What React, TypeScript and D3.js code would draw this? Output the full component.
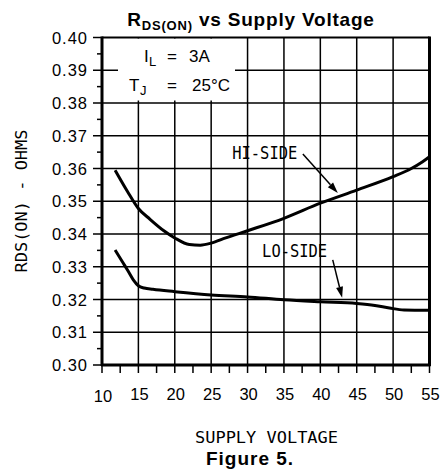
import React from "react";
import * as d3 from "d3";

const xTicks = [10, 15, 20, 25, 30, 35, 40, 45, 50, 55];
const xMinor = [12.5, 17.5, 22.5, 27.5, 32.5, 37.5, 42.5, 47.5, 52.5];
const yTicks = [0.3, 0.31, 0.32, 0.33, 0.34, 0.35, 0.36, 0.37, 0.38, 0.39, 0.4];
const yMinor = [0.305, 0.315, 0.325, 0.335, 0.345, 0.355, 0.365, 0.375, 0.385, 0.395];

const hiV = [11.8, 13.5, 15, 16.6, 18.5, 20, 22, 23.5, 25, 27, 30, 35, 40, 45, 50, 52.5, 54, 55];
const hiR = [0.3595, 0.353, 0.3478, 0.3445, 0.341, 0.3388, 0.3368, 0.3366, 0.3372, 0.3388, 0.341, 0.3448, 0.3494, 0.3534, 0.3575, 0.36, 0.362, 0.3636];

const loV = [11.8, 12.8, 13.5, 14.3, 15, 15.8, 17, 20, 25, 30, 35, 40, 45, 47.5, 49.5, 51.5, 55];
const loR = [0.3351, 0.3315, 0.329, 0.326, 0.3242, 0.3235, 0.3231, 0.3224, 0.3214, 0.3208, 0.3199, 0.3193, 0.3188, 0.3182, 0.3174, 0.3168, 0.3167];

const labels = [
  { text: "HI-SIDE", v: 27.9, r: 0.3629, fromV: 37.6, fromR: 0.3644, toV: 42.4, toR: 0.3525 },
  { text: "LO-SIDE", v: 32.0, r: 0.333, fromV: 41.7, fromR: 0.3321, toV: 43.0, toR: 0.3205 },
];

const plotter = "'DejaVu Sans Mono', monospace";
const arial = "'Liberation Sans', Arial, sans-serif";

export default function App() {
  const W = 443;
  const H = 472;
  const x = d3.scaleLinear().domain([10, 55]).range([102, 429.5]);
  const y = d3.scaleLinear().domain([0.3, 0.4]).range([365, 37.5]);
  const [x0, x1] = x.range();
  const [y0, y1] = y.range();

  const line = d3
    .line<[number, number]>()
    .x((d) => x(d[0]))
    .y((d) => y(d[1]))
    .curve(d3.curveMonotoneX);
  const hiPath = line(hiV.map((v, i) => [v, hiR[i]] as [number, number])) || "";
  const loPath = line(loV.map((v, i) => [v, loR[i]] as [number, number])) || "";

  const arrow = (a: typeof labels[0]) => {
    const fx = x(a.fromV), fy = y(a.fromR), tx = x(a.toV), ty = y(a.toR);
    const ang = Math.atan2(ty - fy, tx - fx);
    const L = 11, Wd = 3.5;
    const bx = tx - L * Math.cos(ang), by = ty - L * Math.sin(ang);
    const px = -Math.sin(ang) * Wd, py = Math.cos(ang) * Wd;
    return (
      <g>
        <line x1={fx} y1={fy} x2={bx} y2={by} stroke="#000" strokeWidth={1.5} />
        <path d={`M${tx},${ty}L${bx + px},${by + py}L${bx - px},${by - py}Z`} fill="#000" />
      </g>
    );
  };

  return (
    <svg width={W} height={H} style={{ position: "absolute", left: 0, top: 0, background: "#fff" }}>
      <rect width={W} height={H} fill="#fff" />
      {/* grid */}
      {xTicks.slice(1, -1).map((t) => (
        <line key={"gx" + t} x1={x(t)} x2={x(t)} y1={y0} y2={y1} stroke="#000" strokeWidth={1.5} />
      ))}
      {yTicks.slice(1, -1).map((t) => (
        <line key={"gy" + t} x1={x0} x2={x1} y1={y(t)} y2={y(t)} stroke="#000" strokeWidth={1.5} />
      ))}
      {/* legend box */}
      <rect x={118} y={y1 + 1} width={117} height={62} fill="#fff" />
      {/* frame */}
      <line x1={x0} x2={x1} y1={y1} y2={y1} stroke="#000" strokeWidth={2} />
      <line x1={x0} x2={x0} y1={y1 - 1} y2={y0 + 1} stroke="#000" strokeWidth={3} />
      <line x1={x1} x2={x1} y1={y1 - 1} y2={y0 + 1} stroke="#000" strokeWidth={3} />
      <line x1={x0 - 1} x2={x1 + 1} y1={y0} y2={y0} stroke="#000" strokeWidth={3} />
      {/* ticks */}
      {yTicks.map((t) => (
        <line key={"ty" + t} x1={x0 - 9} x2={x0} y1={y(t)} y2={y(t)} stroke="#000" strokeWidth={1.5} />
      ))}
      {yMinor.map((t) => (
        <line key={"tym" + t} x1={x0 - 5} x2={x0} y1={y(t)} y2={y(t)} stroke="#000" strokeWidth={1.5} />
      ))}
      {xTicks.concat(xMinor).map((t) => (
        <line key={"tx" + t} x1={x(t)} x2={x(t)} y1={y0} y2={y0 + 8} stroke="#000" strokeWidth={1.5} />
      ))}
      {/* tick labels */}
      {yTicks.map((t) => (
        <text key={"ly" + t} x={88} y={y(t) + 6} textAnchor="end" fontFamily={arial} fontSize={16.5} letterSpacing={1}>
          {t.toFixed(2)}
        </text>
      ))}
      {xTicks.map((t, i) => (
        <text key={"lx" + t} x={x(t) + 1} y={i === 0 ? 402 : 400} textAnchor="middle" fontFamily={arial} fontSize={16.5}>
          {t}
        </text>
      ))}
      {/* curves */}
      <path d={hiPath} fill="none" stroke="#000" strokeWidth={3} strokeLinejoin="round" />
      <path d={loPath} fill="none" stroke="#000" strokeWidth={3} strokeLinejoin="round" />
      {/* annotations */}
      {labels.map((a) => (
        <g key={a.text}>
          <text x={x(a.v)} y={y(a.r)} fontFamily={plotter} fontSize={18} textLength={65} lengthAdjust="spacingAndGlyphs">
            {a.text}
          </text>
          {arrow(a)}
        </g>
      ))}
      {/* legend text */}
      <text fontFamily={arial} fontSize={17}>
        <tspan x={144} y={62}>I</tspan>
        <tspan x={149} y={66} fontSize={13}>L</tspan>
        <tspan x={167} y={62}>=</tspan>
        <tspan x={189} y={62}>3A</tspan>
      </text>
      <text fontFamily={arial} fontSize={17}>
        <tspan x={129} y={91}>T</tspan>
        <tspan x={140} y={95} fontSize={13}>J</tspan>
        <tspan x={167} y={91}>=</tspan>
        <tspan x={192} y={91}>25°C</tspan>
      </text>
      {/* title */}
      <text x={251} y={26} textAnchor="middle" fontFamily={arial} fontSize={19} fontWeight="bold" letterSpacing={0.8}>
        R<tspan fontSize={13} dy={4}>DS(ON)</tspan>
        <tspan dy={-4}> vs Supply Voltage</tspan>
      </text>
      {/* axis titles */}
      <text
        transform={`translate(27,201) rotate(-90)`}
        textAnchor="middle"
        fontFamily={plotter}
        fontSize={16}
        textLength={143}
        lengthAdjust="spacingAndGlyphs"
      >
        RDS(ON) - OHMS
      </text>
      <text x={266.5} y={443} textAnchor="middle" fontFamily={plotter} fontSize={16} textLength={143} lengthAdjust="spacingAndGlyphs">
        SUPPLY VOLTAGE
      </text>
      <text x={250} y={465} textAnchor="middle" fontFamily={arial} fontSize={19} fontWeight="bold" letterSpacing={1}>
        Figure 5.
      </text>
    </svg>
  );
}
